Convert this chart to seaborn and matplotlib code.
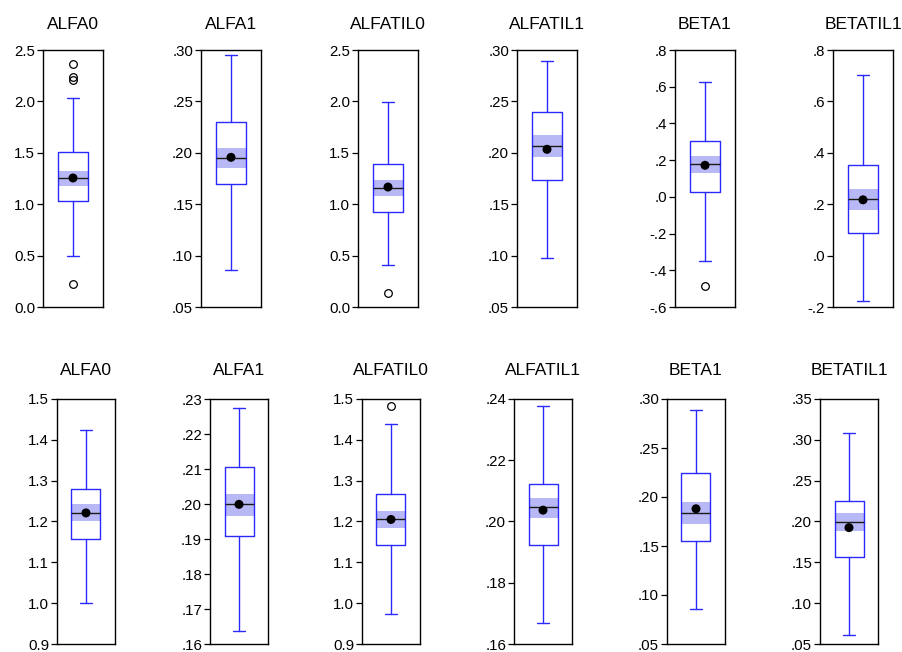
import numpy as np
import pandas as pd
import matplotlib
matplotlib.use("Agg")
import matplotlib.pyplot as plt
from matplotlib.ticker import FuncFormatter, MultipleLocator
import seaborn as sns

# ---------------- data ----------------
names = ["ALFA0", "ALFA1", "ALFATIL0", "ALFATIL1", "BETA1", "BETATIL1"]

# top row
top_whislo = [0.50, 0.0861, 0.406, 0.0975, -0.349, -0.177]
top_q1     = [1.034, 0.1693, 0.920, 0.1735, 0.028, 0.086]
top_med    = [1.252, 0.1950, 1.157, 0.2067, 0.177, 0.220]
top_q3     = [1.505, 0.2301, 1.391, 0.2399, 0.305, 0.353]
top_whishi = [2.035, 0.2951, 1.993, 0.2893, 0.625, 0.703]
top_mean   = [1.255, 0.1956, 1.167, 0.2034, 0.172, 0.217]
top_cilo   = [1.174, 0.1849, 1.079, 0.1956, 0.130, 0.176]
top_cihi   = [1.326, 0.2050, 1.235, 0.2174, 0.221, 0.260]
top_fliers = [[2.367, 2.240, 2.207, 0.221], [], [0.137], [], [-0.483], []]
top_ylim   = [(0.0, 2.5), (0.05, 0.30), (0.0, 2.5), (0.05, 0.30), (-0.6, 0.8), (-0.2, 0.8)]
top_step   = [0.5, 0.05, 0.5, 0.05, 0.2, 0.2]
top_dec    = [1, 2, 1, 2, 1, 1]
top_strip  = [False, True, False, True, True, True]

# bottom row
bot_whislo = [1.000, 0.1637, 0.973, 0.1670, 0.0857, 0.0605]
bot_q1     = [1.158, 0.1910, 1.142, 0.1923, 0.1546, 0.1562]
bot_med    = [1.221, 0.1999, 1.205, 0.2046, 0.1839, 0.1998]
bot_q3     = [1.279, 0.2105, 1.268, 0.2124, 0.2250, 0.2248]
bot_whishi = [1.425, 0.2275, 1.440, 0.2376, 0.2886, 0.3084]
bot_mean   = [1.221, 0.1999, 1.205, 0.2037, 0.1880, 0.1925]
bot_cilo   = [1.202, 0.1967, 1.184, 0.2012, 0.1721, 0.1885]
bot_cihi   = [1.242, 0.2029, 1.226, 0.2078, 0.1950, 0.2107]
bot_fliers = [[], [], [1.482], [], [], []]
bot_ylim   = [(0.9, 1.5), (0.16, 0.23), (0.9, 1.5), (0.16, 0.24), (0.05, 0.30), (0.05, 0.35)]
bot_step   = [0.1, 0.01, 0.1, 0.02, 0.05, 0.05]
bot_dec    = [1, 2, 1, 2, 2, 2]
bot_strip  = [False, True, False, True, True, True]

# ---------------- style ----------------
sns.set_theme(style="white")
plt.rcParams["font.family"] = ["Liberation Sans", "DejaVu Sans"]

BOX_BLUE = "#2a2aff"
BAND = "#b8b8f6"

fig = plt.figure(figsize=(9.03, 6.52), dpi=100)
W, H = 903.0, 652.0

top_left = [43, 201, 358, 517, 675, 833]
bot_left = [57, 210, 362, 514, 667, 820]


def make_fmt(dec, strip):
    def f(v, pos):
        s = f"{v:.{dec}f}"
        if s.startswith("-0") and float(s) == 0:
            s = s[1:]
        if strip:
            if s.startswith("0."):
                s = s[1:]
            elif s.startswith("-0."):
                s = "-" + s[2:]
        return s
    return f


def draw_row(lefts, width_px, top_px, bot_px, title_pad, whislo, q1, med, q3,
             whishi, mean, cilo, cihi, fliers, ylims, steps, decs, strips):
    for i, name in enumerate(names):
        ax = fig.add_axes([lefts[i] / W, 1 - bot_px / H, width_px / W,
                           (bot_px - top_px) / H])
        stats = [dict(whislo=whislo[i], q1=q1[i], med=med[i], q3=q3[i],
                      whishi=whishi[i], fliers=fliers[i], label=name)]
        # confidence band around the median
        ax.fill_between([-0.5, 0.5], cilo[i], cihi[i], color=BAND,
                        lw=0, zorder=1.5)
        ax.bxp(stats, positions=[0], widths=1.0, capwidths=0.4,
               showfliers=True, patch_artist=False,
               boxprops=dict(color=BOX_BLUE, lw=1.0),
               whiskerprops=dict(color=BOX_BLUE, lw=1.0),
               capprops=dict(color=BOX_BLUE, lw=1.0),
               medianprops=dict(color="#1a1a1a", lw=1.0),
               flierprops=dict(marker="o", markerfacecolor="none",
                               markeredgecolor="black", markersize=5.5,
                               markeredgewidth=0.9),
               zorder=2)
        df = pd.DataFrame({"x": [0.0], "y": [mean[i]]})
        sns.scatterplot(data=df, x="x", y="y", ax=ax, color="black",
                        s=42, edgecolor="none", zorder=4, legend=False)
        ax.set_xlim(-1, 1)
        ax.set_ylim(*ylims[i])
        ax.yaxis.set_major_locator(MultipleLocator(steps[i]))
        ax.yaxis.set_major_formatter(FuncFormatter(make_fmt(decs[i], strips[i])))
        ax.set_xticks([])
        ax.set_xlabel("")
        ax.set_ylabel("")
        ax.tick_params(axis="y", left=True, direction="out", length=4.5,
                       width=0.9, labelsize=10.8, pad=1.2, colors="black")
        for sp in ax.spines.values():
            sp.set_color("black")
            sp.set_linewidth(1.0)
        ax.set_title(name, fontsize=12.5, pad=title_pad, color="black")


draw_row(top_left, 60, 50, 307, 15, top_whislo, top_q1, top_med, top_q3,
         top_whishi, top_mean, top_cilo, top_cihi, top_fliers, top_ylim,
         top_step, top_dec, top_strip)
draw_row(bot_left, 58, 399, 644, 17, bot_whislo, bot_q1, bot_med, bot_q3,
         bot_whishi, bot_mean, bot_cilo, bot_cihi, bot_fliers, bot_ylim,
         bot_step, bot_dec, bot_strip)

fig.savefig("out.png", dpi=100)
